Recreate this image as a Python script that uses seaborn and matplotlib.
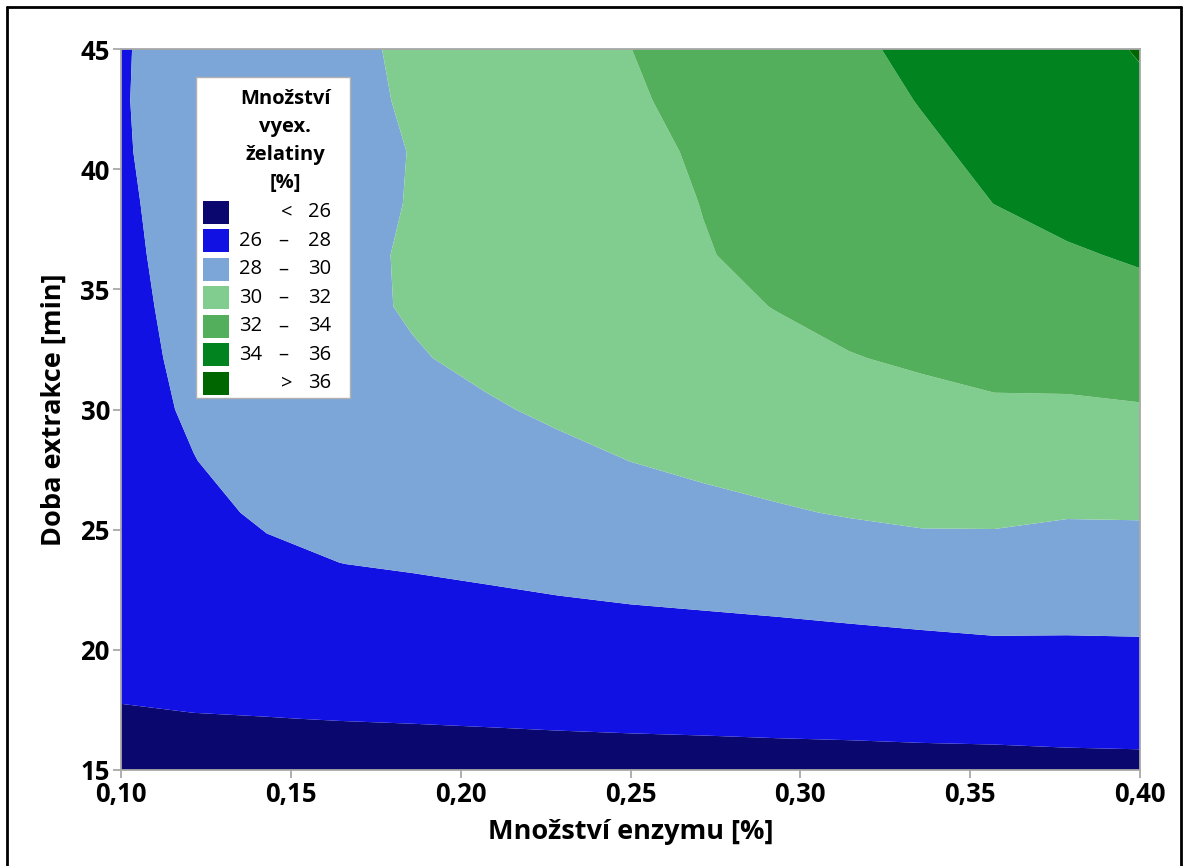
import numpy as np
import matplotlib
matplotlib.use("Agg")
import matplotlib.pyplot as plt
import seaborn as sns
from matplotlib.patches import Rectangle
from matplotlib.lines import Line2D

# ---- data ----
enzyme = [0.1000, 0.1214, 0.1429, 0.1643, 0.1857, 0.2071, 0.2286, 0.2500,
          0.2714, 0.2929, 0.3143, 0.3357, 0.3571, 0.3786, 0.4000]
extraction_time = [15.00, 17.14, 19.29, 21.43, 23.57, 25.71, 27.86, 30.00,
                   32.14, 34.29, 36.43, 38.57, 40.71, 42.86, 45.00]
# gelatin yield [%], rows = extraction time, columns = enzyme amount
gelatin = [
    [25.48, 25.55, 25.42, 25.37, 25.37, 25.39, 25.41, 25.43, 25.45, 25.48, 25.49, 25.52, 25.53, 25.60, 25.63],
    [25.88, 25.95, 25.98, 26.03, 26.07, 26.12, 26.18, 26.23, 26.27, 26.32, 26.37, 26.43, 26.48, 26.52, 26.55],
    [26.30, 26.40, 26.54, 26.68, 26.78, 26.87, 26.96, 27.04, 27.10, 27.17, 27.25, 27.34, 27.42, 27.44, 27.46],
    [26.70, 26.85, 27.11, 27.34, 27.48, 27.61, 27.74, 27.84, 27.92, 28.02, 28.14, 28.26, 28.38, 28.35, 28.38],
    [27.10, 27.30, 27.75, 27.99, 28.11, 28.25, 28.41, 28.58, 28.75, 28.93, 29.14, 29.32, 29.36, 29.23, 29.26],
    [27.45, 27.70, 28.17, 28.36, 28.58, 28.80, 29.05, 29.35, 29.60, 29.86, 30.10, 30.30, 30.30, 30.11, 30.13],
    [27.62, 27.98, 28.33, 28.66, 28.99, 29.32, 29.66, 30.01, 30.30, 30.55, 30.70, 30.95, 31.05, 30.94, 31.01],
    [27.68, 28.11, 28.55, 28.98, 29.41, 29.84, 30.22, 30.45, 30.77, 31.04, 31.32, 31.66, 31.84, 31.78, 31.89],
    [27.68, 28.23, 28.79, 29.35, 29.88, 30.30, 30.61, 30.95, 31.28, 31.62, 31.95, 32.15, 32.33, 32.51, 32.68],
    [27.71, 28.34, 28.97, 29.60, 30.14, 30.53, 30.91, 31.29, 31.67, 32.04, 32.32, 32.60, 32.89, 33.17, 33.45],
    [27.78, 28.40, 29.01, 29.62, 30.16, 30.61, 31.05, 31.49, 31.93, 32.31, 32.69, 33.07, 33.44, 33.82, 34.19],
    [27.85, 28.41, 28.97, 29.52, 30.07, 30.56, 31.05, 31.54, 32.03, 32.53, 33.02, 33.52, 34.01, 34.50, 34.99],
    [27.91, 28.44, 28.98, 29.51, 30.04, 30.57, 31.11, 31.64, 32.17, 32.70, 33.24, 33.77, 34.30, 34.84, 35.37],
    [27.93, 28.48, 29.04, 29.60, 30.16, 30.72, 31.27, 31.83, 32.39, 32.95, 33.51, 34.06, 34.62, 35.18, 35.74],
    [27.91, 28.50, 29.08, 29.66, 30.24, 30.83, 31.41, 31.99, 32.57, 33.16, 33.74, 34.32, 34.91, 35.49, 36.10],
]
level_edges = [26, 28, 30, 32, 34, 36]
band_colors = ["#0A086F", "#1111E3", "#7CA6D8", "#81CD90", "#53AF5B", "#018420", "#006600"]
x_ticks = [0.10, 0.15, 0.20, 0.25, 0.30, 0.35, 0.40]
x_tick_labels = ["0,10", "0,15", "0,20", "0,25", "0,30", "0,35", "0,40"]
y_ticks = [15, 20, 25, 30, 35, 40, 45]
legend_title = ["Množství", "vyex.", "želatiny", "[%]"]
x_label = "Množství enzymu [%]"
y_label = "Doba extrakce [min]"

# ---- style ----
sns.set_theme(style="ticks")
FONT = ["Open Sans", "DejaVu Sans"]
plt.rcParams["font.family"] = FONT
plt.rcParams["text.color"] = "black"
plt.rcParams["axes.labelcolor"] = "black"

W, H = 1185, 866
fig = plt.figure(figsize=(W / 100, H / 100), dpi=100)
L, R, T, B = 121, 1140, 49, 770
ax = fig.add_axes([L / W, 1 - B / H, (R - L) / W, (B - T) / H])

palette = sns.color_palette(band_colors)
levels = [min(map(min, gelatin)) - 1] + level_edges + [max(map(max, gelatin)) + 1]
X, Y = np.meshgrid(enzyme, extraction_time)
ax.contourf(X, Y, np.array(gelatin), levels=levels, colors=palette, antialiased=True)

ax.set_xlim(0.10, 0.40)
ax.set_ylim(15, 45)
ax.set_xticks(x_ticks)
ax.set_xticklabels(x_tick_labels)
ax.set_yticks(y_ticks)
ax.set_yticklabels([str(v) for v in y_ticks])
for s in ax.spines.values():
    s.set_color("#A8A8A8")
    s.set_linewidth(1.3)
ax.tick_params(axis="both", colors="#A8A8A8", length=6, width=1.3, labelcolor="black",
               labelsize=18.5, pad=2)
for lab in ax.get_xticklabels() + ax.get_yticklabels():
    lab.set_fontweight("bold")
ax.set_xlabel(x_label, fontsize=19.5, fontweight="bold", labelpad=8, color="black")
ax.set_ylabel(y_label, fontsize=19.5, fontweight="bold", labelpad=10, color="black")

# ---- legend box (drawn in axes coordinates) ----
def ax_x(px):
    return (px - L) / (R - L)

def ax_y(py):
    return (B - py) / (B - T)

LFS = 14.5
ax.add_patch(Rectangle((ax_x(196), ax_y(398)), ax_x(350) - ax_x(196), ax_y(77) - ax_y(398),
                       transform=ax.transAxes, facecolor="white", edgecolor="#B0B0B0",
                       linewidth=1.0, zorder=5, clip_on=False))
for i, line in enumerate(legend_title):
    ax.text(ax_x(285), ax_y(99 + i * 28), line, transform=ax.transAxes, ha="center",
            va="center", fontsize=LFS, fontweight="bold", color="black", zorder=6)
for k, col in enumerate(band_colors):
    cy = 212.3 + k * 28.5
    ax.add_patch(Rectangle((ax_x(203), ax_y(cy + 11.5)), ax_x(229) - ax_x(203), ax_y(cy - 11.5) - ax_y(cy + 11.5),
                           transform=ax.transAxes, facecolor=col, edgecolor="none", zorder=6))
    kw = dict(transform=ax.transAxes, va="center", fontsize=LFS, color="black", zorder=7)
    if k == 0:
        ax.text(ax_x(287), ax_y(cy), "<", ha="center", **kw)
        ax.text(ax_x(331), ax_y(cy), str(level_edges[0]), ha="right", **kw)
    elif k == len(band_colors) - 1:
        ax.text(ax_x(287), ax_y(cy), ">", ha="center", **kw)
        ax.text(ax_x(331), ax_y(cy), str(level_edges[-1]), ha="right", **kw)
    else:
        ax.text(ax_x(239), ax_y(cy), str(level_edges[k - 1]), ha="left", **kw)
        ax.text(ax_x(283), ax_y(cy), "–", ha="center", **kw)
        ax.text(ax_x(331), ax_y(cy), str(level_edges[k]), ha="right", **kw)

# ---- outer black frame (left, top, right) ----
fl, ft, fr = 6.5 / W, 1 - 6.5 / H, 1181 / W
for xs, ys in [([fl, fl], [0, ft]), ([fl, fr], [ft, ft]), ([fr, fr], [ft, 0])]:
    fig.add_artist(Line2D(xs, ys, transform=fig.transFigure, color="black", linewidth=2))

fig.savefig("out.png", dpi=100)
